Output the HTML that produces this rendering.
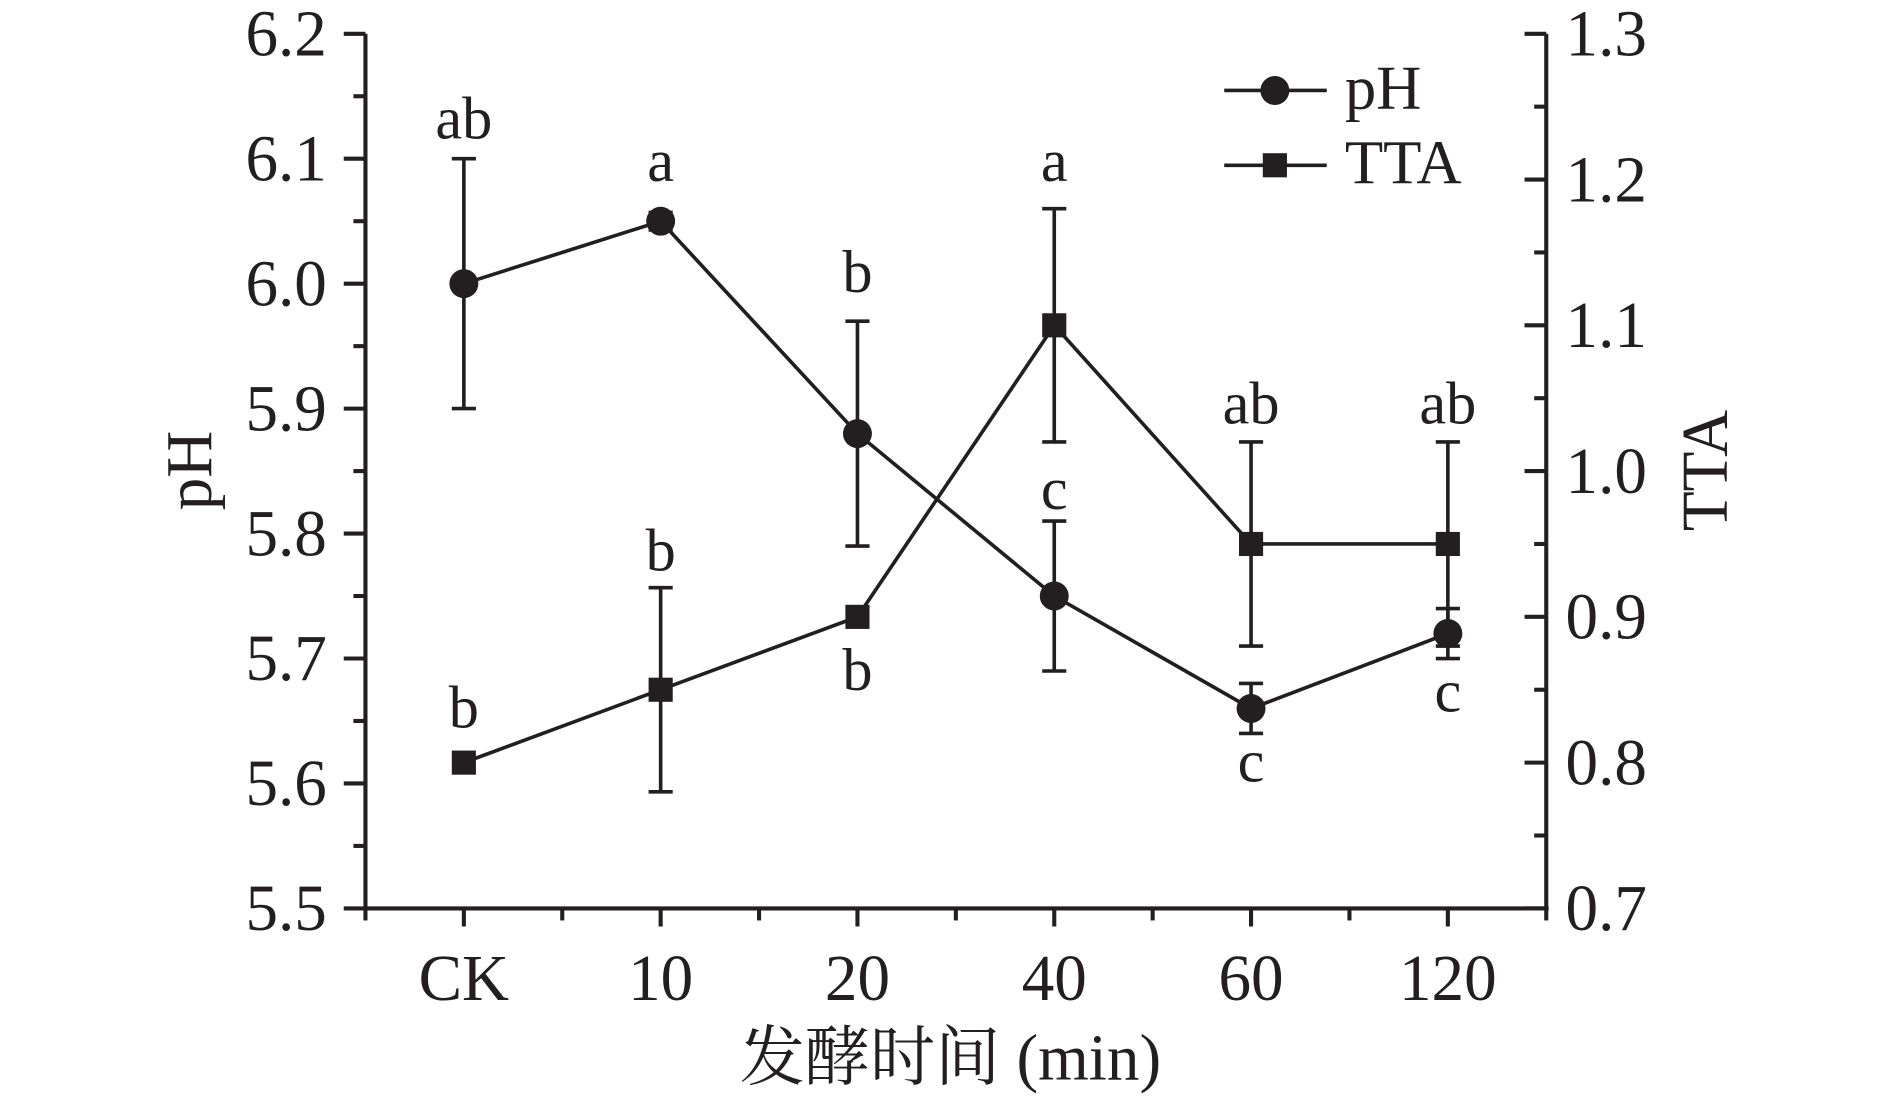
<!DOCTYPE html>
<html><head><meta charset="utf-8"><style>
html,body{margin:0;padding:0;background:#fff;}
svg{display:block;}
text{font-family:"Liberation Serif","Noto Serif CJK SC",serif;fill:#231f20;}
</style></head><body>
<svg id="chart" width="1890" height="1099" viewBox="0 0 1567 911" preserveAspectRatio="none" xmlns="http://www.w3.org/2000/svg">
<g id="g"></g>
</svg>
<script>
const categories = ["CK","10","20","40","60","120"];
const phValues = [6.00,6.05,5.88,5.75,5.66,5.72];
const phErrors = [0.10,0.007,0.09,0.06,0.02,0.02];
const ttaValues = [0.80,0.85,0.90,1.10,0.95,0.95];
const ttaErrors = [0,0.07,0,0.08,0.07,0.07];
const phTicks = ["5.5","5.6","5.7","5.8","5.9","6.0","6.1","6.2"];
const ttaTicks = ["0.7","0.8","0.9","1.0","1.1","1.2","1.3"];
const phLetters = ["ab","a","b","c","c","c"];
const ttaLetters = ["b","b","b","a","ab","ab"];

const L=303,R=1282,T=28,B=753;
const xS=i=>L+(i+0.5)*(R-L)/6;
const yPH=v=>B-(v-5.5)/0.7*(B-T);
const yTT=v=>B-(v-0.7)/0.6*(B-T);
const g=document.getElementById('g');
const NS="http://www.w3.org/2000/svg";
function mk(tag,attrs,parent){const e=document.createElementNS(NS,tag);for(const k in attrs)e.setAttribute(k,attrs[k]);(parent||g).appendChild(e);return e;}
const col="#231f20";
function line(x1,y1,x2,y2,w){return mk('line',{x1,y1,x2,y2,stroke:col,'stroke-width':w||3});}
function txt(s,x,y,size,anchor){const t=mk('text',{x,y,'font-size':size,'text-anchor':anchor||'middle'});t.textContent=s;return t;}

let e;
e=line(L,T,L,B,3.4);
e=line(R,T,R,B,3.4);
e=line(L-2,B,R+2,B,3.4);

for(let i=0;i<phTicks.length;i++){const v=5.5+i*0.1,y=yPH(v);
 line(L-18,y,L,y,3.4);
 e=txt(phTicks[i],L-32,y+18,54,'end');
 if(i<phTicks.length-1){const ym=yPH(v+0.05);line(L-10,ym,L,ym,3.4);}
}
for(let i=0;i<ttaTicks.length;i++){const v=0.7+i*0.1,y=yTT(v);
 line(R-18,y,R,y,3.4);
 e=txt(ttaTicks[i],R+16,y+18,54,'start');
 if(i<ttaTicks.length-1){const ym=yTT(v+0.05);line(R-10,ym,R,ym,3.4);}
}
for(let i=0;i<categories.length;i++){const x=xS(i);
 line(x,B,x,B+15,3.4);
 e=txt(categories[i],x,B+76,54);
 if(i<categories.length-1){const xm=(x+xS(i+1))/2;line(xm,B,xm,B+10,3.4);}
}
line(R,B,R,B+10,3.4);line(L,B,L,B+10,3.4);

e=txt("pH",0,0,54);e.setAttribute('transform','translate(175,390) rotate(-90)');
e=txt("TTA",0,0,54);e.setAttribute('transform','translate(1432,390) rotate(-90)');
e=txt("发酵时间 (min)",788,895,54);

function errbar(x,y1,y2){line(x,y1,x,y2,3);line(x-10,y1,x+10,y1,3);line(x-10,y2,x+10,y2,3);}

let pts=phValues.map((v,i)=>xS(i)+','+yPH(v)).join(' ');
e=mk('polyline',{points:pts,fill:'none',stroke:col,'stroke-width':3});
phValues.forEach((v,i)=>{const x=xS(i);if(phErrors[i]>0)errbar(x,yPH(v+phErrors[i]),yPH(v-phErrors[i]));
 const c=mk('circle',{cx:x,cy:yPH(v),r:12,fill:col});});
pts=ttaValues.map((v,i)=>xS(i)+','+yTT(v)).join(' ');
e=mk('polyline',{points:pts,fill:'none',stroke:col,'stroke-width':3});
ttaValues.forEach((v,i)=>{const x=xS(i);if(ttaErrors[i]>0)errbar(x,yTT(v+ttaErrors[i]),yTT(v-ttaErrors[i]));
 const s=mk('rect',{x:x-10,y:yTT(v)-10,width:20,height:20,fill:col});});

const phLetterY=[115,150,242,422,648,590];
const ttaLetterY=[603,473,572,150,351,351];
phLetters.forEach((s,i)=>{const t=txt(s,xS(i),phLetterY[i],50);});
ttaLetters.forEach((s,i)=>{const t=txt(s,xS(i),ttaLetterY[i],50);});

line(1015,75,1100,75,3);
e=mk('circle',{cx:1057,cy:75,r:12,fill:col});
e=txt("pH",1115,90,52,'start');
line(1015,137,1100,137,3);
e=mk('rect',{x:1047,y:127,width:20,height:20,fill:col});
e=txt("TTA",1115,152,52,'start');
</script>
</body></html>
